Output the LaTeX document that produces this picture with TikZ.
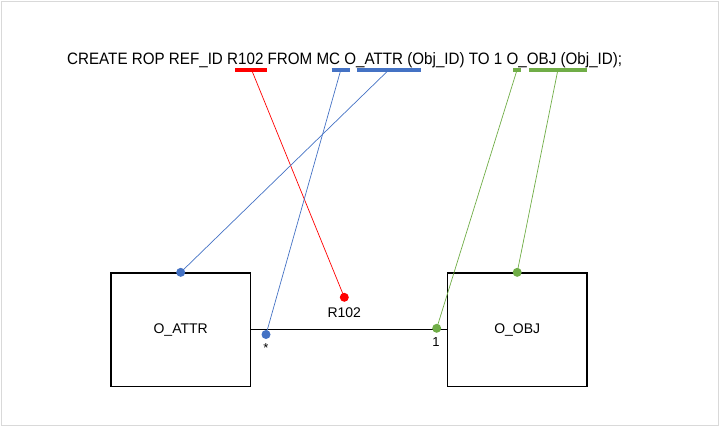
\documentclass[tikz,border=0pt]{standalone}
\usepackage{fontspec}
\setmainfont{Liberation Sans}
\newfontfamily\ropfont[FakeStretch=0.92]{Liberation Sans}
\usetikzlibrary{positioning}

\definecolor{ropred}{HTML}{FF0000}
\definecolor{ropblue}{HTML}{4472C4}
\definecolor{ropgreen}{HTML}{70AD47}
\definecolor{framegray}{HTML}{D9D9D9}

\tikzset{
  classbox/.style={draw=black,line width=1.4pt,minimum width=139.5pt,minimum height=113.5pt,
    inner sep=0pt,font=\fontsize{14}{16}\selectfont},
  pin/.style={circle,fill=#1,minimum size=9pt,inner sep=0pt},
  bar/.style={line width=3.5pt,#1},
  link/.style={line width=0.7pt,#1},
  mult/.style={font=\fontsize{13}{15}\selectfont,inner sep=1pt}
}

\begin{document}
\begin{tikzpicture}[x=1pt,y=-1pt]
        \useasboundingbox (0,0) rectangle (720,427);
        \draw[framegray,line width=1.2pt] (1.5,1.5) rectangle (718.5,425.5);

      \node[anchor=base west,inner sep=0pt,font=\ropfont\fontsize{16.5}{18}\selectfont]
            (stmt) at (67,64.5) {CREATE ROP REF\_ID R102 FROM MC O\_ATTR (Obj\_ID) TO 1 O\_OBJ (Obj\_ID);};

      \node[classbox]  (attr) at (180.7,329.8) {O\_ATTR};
      \node[classbox]  (obj)  at (517.2,329.8) {O\_OBJ};

      \draw[line width=1pt] (attr.east) -- (obj.west);

      % underlines of the statement
      \draw[bar=ropred]   (235,70)   -- (267,70)   coordinate[pos=0.52] (u_rel);
      \draw[bar=ropblue]  (331.5,70) -- (350,70)   coordinate[midway] (u_mc);
      \draw[bar=ropblue]  (356.7,70) -- (420.7,70) coordinate[midway] (u_from);
      \draw[bar=ropgreen] (513.3,70) -- (520.7,70) coordinate[midway] (u_one);
      \draw[bar=ropgreen] (529,70)   -- (586.7,70) coordinate[midway] (u_to);

      \coordinate (c_rel)  at (344.3,297.3);
      \coordinate (c_mc)   at (266,334.5);
      \coordinate (c_from) at (attr.north);
      \coordinate (c_one)  at (436.7,328.3);
      \coordinate (c_to)   at (obj.north);

      \path (u_rel)  edge[link=ropred]   (c_rel)
            (u_mc)   edge[link=ropblue]  (c_mc)
            (u_from) edge[link=ropblue]  (c_from)
            (u_one)  edge[link=ropgreen] (c_one)
            (u_to)   edge[link=ropgreen] (c_to)
            ;

      \node[pin=ropred]   (p_rel)  at (c_rel)  {};
      \node[pin=ropblue]  (p_mc)   at (c_mc)   {};
      \node[pin=ropblue]  (p_from) at (c_from) {};
      \node[pin=ropgreen] (p_one)  at (c_one)  {};
      \node[pin=ropgreen] (p_to)   at (c_to)   {};

      \node[font=\fontsize{14}{16}\selectfont, below=2pt of p_rel] (l_rel) {R102};
      \node[mult] (l_mc)  at (266,348)   {*};
      \node[mult] (l_one) at (436,342.5) {1};
    \end{tikzpicture}
\end{document}
